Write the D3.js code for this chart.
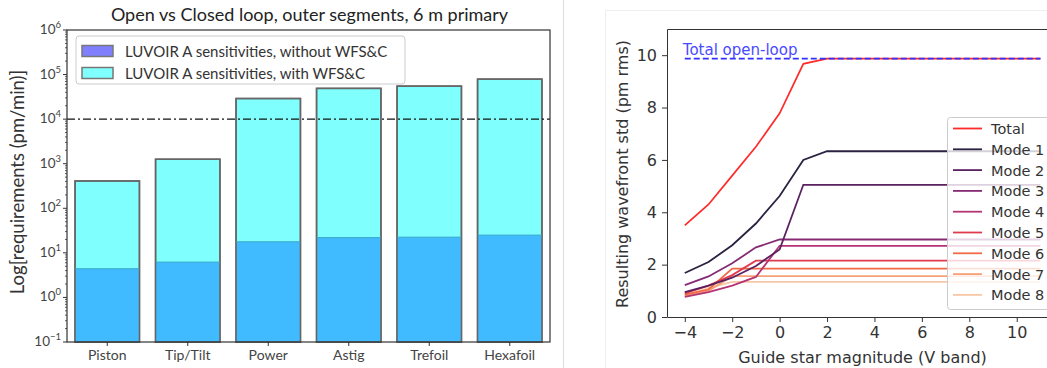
<!DOCTYPE html>
<html lang="en">
<head>
<meta charset="UTF-8">
<script src="https://d3js.org/d3.v7.min.js"></script>
<style>
  body { margin: 0; background: #fff; }
  svg { display: block; }
</style>
</head>
<body>
<div id="chart"></div>
<script>
// ---- data: left panel (log bar chart) ----
var modes = ["Piston", "Tip/Tilt", "Power", "Astig", "Trefoil", "Hexafoil"];
var withWFSC = [410, 1260, 29000, 49000, 55000, 79000];
var withoutWFSC = [4.4, 6.2, 17.7, 22, 22.5, 25];
var logTicks = [-1, 0, 1, 2, 3, 4, 5, 6];
var openLoopReq = 1e4;

// ---- data: right panel (closed loop vs guide star magnitude) ----
var magnitudes = [-4, -3, -2, -1, 0, 1, 2, 3, 4, 5, 6, 7, 8, 9, 10, 11];
var totalOpen = 9.87;
var totalStd = [3.5, 4.3, 5.4, 6.5, 7.78, 9.67, 9.87, 9.87, 9.87, 9.87, 9.87, 9.87, 9.87, 9.87, 9.87, 9.87];
var mode1 = [1.68, 2.1, 2.74, 3.57, 4.62, 6.0, 6.33, 6.33, 6.33, 6.33, 6.33, 6.33, 6.33, 6.33, 6.33, 6.33];
var mode2 = [0.95, 1.2, 1.5, 1.95, 2.58, 5.05, 5.05, 5.05, 5.05, 5.05, 5.05, 5.05, 5.05, 5.05, 5.05, 5.05];
var mode3 = [1.22, 1.55, 2.05, 2.66, 2.96, 2.96, 2.96, 2.96, 2.96, 2.96, 2.96, 2.96, 2.96, 2.96, 2.96, 2.96];
var mode4 = [0.77, 0.95, 1.2, 1.53, 2.72, 2.72, 2.72, 2.72, 2.72, 2.72, 2.72, 2.72, 2.72, 2.72, 2.72, 2.72];
var mode5 = [0.9, 1.2, 1.6, 2.15, 2.15, 2.15, 2.15, 2.15, 2.15, 2.15, 2.15, 2.15, 2.15, 2.15, 2.15, 2.15];
var mode6 = [0.85, 1.05, 1.85, 1.85, 1.85, 1.85, 1.85, 1.85, 1.85, 1.85, 1.85, 1.85, 1.85, 1.85, 1.85, 1.85];
var mode7 = [0.8, 1.0, 1.56, 1.56, 1.56, 1.56, 1.56, 1.56, 1.56, 1.56, 1.56, 1.56, 1.56, 1.56, 1.56, 1.56];
var mode8 = [0.82, 1.1, 1.34, 1.34, 1.34, 1.34, 1.34, 1.34, 1.34, 1.34, 1.34, 1.34, 1.34, 1.34, 1.34, 1.34];
var seriesNames = ["Total", "Mode 1", "Mode 2", "Mode 3", "Mode 4", "Mode 5", "Mode 6", "Mode 7", "Mode 8"];
var seriesColors = ["#ff2a2a", "#2b2140", "#5a2160", "#852b73", "#b53474", "#e03a4f", "#ef6a45", "#f5a078", "#f8c7a6"];
var xTicksR = [-4, -2, 0, 2, 4, 6, 8, 10];
var yTicksR = [0, 2, 4, 6, 8, 10];

var W = 1047, H = 368;
var svg = d3.select("#chart").append("svg").attr("width", W).attr("height", H);

// panel separators
svg.append("line").attr("x1", 563.5).attr("x2", 563.5).attr("y1", 0).attr("y2", H)
  .attr("stroke", "#ddd").attr("stroke-width", 1);
svg.append("path").attr("d", "M605.5," + H + "V10.5H" + W)
  .attr("fill", "none").attr("stroke", "#eee").attr("stroke-width", 1);

// =============== left panel ===============
var lf = "Lato, 'Open Sans', sans-serif";
var L = { left: 67, right: 550, top: 30, bottom: 342 };
var xb = d3.scaleBand().domain(modes).range([L.left, L.right]).paddingInner(0.2).paddingOuter(0.1);
var yl = d3.scaleLog().domain([0.1, 1e6]).range([L.bottom, L.top]);
var gl = svg.append("g");

gl.append("text").attr("x", (L.left + L.right) / 2 + 1).attr("y", 21)
  .attr("text-anchor", "middle").attr("font-family", lf).attr("font-size", 18)
  .attr("fill", "#222").text("Open vs Closed loop, outer segments, 6 m primary");

// cyan bars (with WFS&C)
gl.selectAll("rect.with").data(modes).enter().append("rect")
  .attr("x", function (d) { return xb(d); })
  .attr("width", xb.bandwidth())
  .attr("y", function (d, i) { return yl(withWFSC[i]); })
  .attr("height", function (d, i) { return L.bottom - yl(withWFSC[i]); })
  .attr("fill", "#80ffff").attr("stroke", "#666").attr("stroke-width", 1.5);
// blue bars (without WFS&C)
gl.selectAll("rect.without").data(modes).enter().append("rect")
  .attr("x", function (d) { return xb(d); })
  .attr("width", xb.bandwidth())
  .attr("y", function (d, i) { return yl(withoutWFSC[i]); })
  .attr("height", function (d, i) { return L.bottom - yl(withoutWFSC[i]); })
  .attr("fill", "#40bbff").attr("stroke", "none");
gl.selectAll("rect.outline").data(modes).enter().append("rect")
  .attr("x", function (d) { return xb(d); })
  .attr("width", xb.bandwidth())
  .attr("y", function (d, i) { return yl(withWFSC[i]); })
  .attr("height", function (d, i) { return L.bottom - yl(withWFSC[i]); })
  .attr("fill", "none").attr("stroke", "#666").attr("stroke-width", 1.5);
gl.selectAll("line.mid").data(modes).enter().append("line")
  .attr("x1", function (d) { return xb(d); })
  .attr("x2", function (d) { return xb(d) + xb.bandwidth(); })
  .attr("y1", function (d, i) { return yl(withoutWFSC[i]); })
  .attr("y2", function (d, i) { return yl(withoutWFSC[i]); })
  .attr("stroke", "#3aa8c8").attr("stroke-width", 1);

// requirement line
gl.append("line").attr("x1", L.left).attr("x2", L.right)
  .attr("y1", yl(openLoopReq)).attr("y2", yl(openLoopReq))
  .attr("stroke", "#111").attr("stroke-width", 1.3).attr("stroke-dasharray", "8,3,2,3");

// frame
gl.append("rect").attr("x", L.left).attr("y", L.top)
  .attr("width", L.right - L.left).attr("height", L.bottom - L.top)
  .attr("fill", "none").attr("stroke", "#333").attr("stroke-width", 1.2);

// y ticks (major + minor)
logTicks.forEach(function (e) {
  var y = yl(Math.pow(10, e));
  gl.append("line").attr("x1", L.left - 4).attr("x2", L.left).attr("y1", y).attr("y2", y)
    .attr("stroke", "#333").attr("stroke-width", 1);
  var t = gl.append("text").attr("x", L.left - 6).attr("y", y + 4)
    .attr("text-anchor", "end").attr("font-family", lf).attr("font-size", 13.5).attr("fill", "#444");
  t.append("tspan").text("10");
  t.append("tspan").attr("dy", -6).attr("font-size", 9.5).text(String(e).replace("-", "\u2212"));
  if (e < 6) {
    for (var k = 2; k < 10; k++) {
      var ym = yl(k * Math.pow(10, e));
      gl.append("line").attr("x1", L.left - 2).attr("x2", L.left).attr("y1", ym).attr("y2", ym)
        .attr("stroke", "#333").attr("stroke-width", 0.8);
    }
  }
});
gl.append("text").attr("transform", "translate(24," + 182 + ") rotate(-90)")
  .attr("text-anchor", "middle").attr("font-family", lf).attr("font-size", 18.5).attr("fill", "#333")
  .text("Log[requirements (pm/min)]");

// x ticks
modes.forEach(function (m) {
  var x = xb(m) + xb.bandwidth() / 2;
  gl.append("line").attr("x1", x).attr("x2", x).attr("y1", L.bottom).attr("y2", L.bottom + 4)
    .attr("stroke", "#333");
  gl.append("text").attr("x", x).attr("y", L.bottom + 18).attr("text-anchor", "middle")
    .attr("font-family", lf).attr("font-size", 14).attr("fill", "#444").text(m);
});

// legend
var lg = gl.append("g");
lg.append("rect").attr("x", 76).attr("y", 36).attr("width", 329).attr("height", 48).attr("rx", 3)
  .attr("fill", "#fff").attr("fill-opacity", 0.85).attr("stroke", "#ccc");
[["#7f7fff", "LUVOIR A sensitivities, without WFS&C"], ["#80ffff", "LUVOIR A sensitivities, with WFS&C"]]
  .forEach(function (d, i) {
    lg.append("rect").attr("x", 82).attr("y", 45.5 + i * 22).attr("width", 31).attr("height", 11)
      .attr("fill", d[0]).attr("stroke", "#777").attr("stroke-width", 1.5);
    lg.append("text").attr("x", 125).attr("y", 56.5 + i * 22).attr("font-family", lf)
      .attr("font-size", 15).attr("fill", "#333").text(d[1]);
  });

// =============== right panel ===============
var rf = "'DejaVu Sans', sans-serif";
var R = { left: 667, top: 29, bottom: 317 };
var xr = d3.scaleLinear().domain([-4.75, 11.75]).range([R.left, R.left + 16.5 * 23.71]);
var yr = d3.scaleLinear().domain([0, 11]).range([R.bottom, R.top]);
var gr = svg.append("g");

gr.append("path").attr("d", "M" + W + "," + (R.top + 0.5) + "H" + (R.left + 0.5) + "V" + (R.bottom + 0.5) + "H" + W)
  .attr("fill", "none").attr("stroke", "#333").attr("stroke-width", 1);

gr.append("g").attr("transform", "translate(0," + R.bottom + ")")
  .call(d3.axisBottom(xr).tickValues(xTicksR).tickSize(5).tickPadding(5)
    .tickFormat(function (d) { return String(d).replace("-", "\u2212"); }))
  .call(function (g) {
    g.select(".domain").remove();
    g.selectAll("text").attr("font-family", rf).attr("font-size", 16).attr("fill", "#333");
    g.selectAll("line").attr("stroke", "#333");
  });
gr.append("g").attr("transform", "translate(" + R.left + ",0)")
  .call(d3.axisLeft(yr).tickValues(yTicksR).tickSize(5).tickPadding(5))
  .call(function (g) {
    g.select(".domain").remove();
    g.selectAll("text").attr("font-family", rf).attr("font-size", 16).attr("fill", "#333");
    g.selectAll("line").attr("stroke", "#333");
  });

gr.append("text").attr("x", (R.left + 1058) / 2).attr("y", 363).attr("text-anchor", "middle")
  .attr("font-family", rf).attr("font-size", 16).attr("fill", "#333").text("Guide star magnitude (V band)");
gr.append("text").attr("transform", "translate(628," + ((R.top + R.bottom) / 2 + 1) + ") rotate(-90)")
  .attr("text-anchor", "middle").attr("font-family", rf).attr("font-size", 16).attr("fill", "#333")
  .text("Resulting wavefront std (pm rms)");

var line = d3.line().x(function (d) { return xr(d[0]); }).y(function (d) { return yr(d[1]); });
var allSeries = [totalStd, mode1, mode2, mode3, mode4, mode5, mode6, mode7, mode8];

// total curve
gr.append("path").datum(magnitudes.map(function (m, i) { return [m, totalStd[i]]; }))
  .attr("d", line).attr("fill", "none").attr("stroke", seriesColors[0]).attr("stroke-width", 1.7);
// open-loop level
gr.append("line").attr("x1", xr(-4)).attr("x2", xr(11)).attr("y1", yr(totalOpen)).attr("y2", yr(totalOpen))
  .attr("stroke", "#3030ff").attr("stroke-width", 1.8).attr("stroke-dasharray", "6,3");
gr.append("text").attr("x", xr(-4) - 2).attr("y", yr(totalOpen) - 4)
  .attr("font-family", rf).attr("font-size", 15).attr("fill", "#4a4aff").text("Total open-loop");

// modes
for (var s = allSeries.length - 1; s >= 1; s--) {
  gr.append("path").datum(magnitudes.map(function (m, i) { return [m, allSeries[s][i]]; }))
    .attr("d", line).attr("fill", "none").attr("stroke", seriesColors[s]).attr("stroke-width", 1.8);
}

// legend
var rl = gr.append("g");
rl.append("rect").attr("x", 947.5).attr("y", 117.5).attr("width", 120).attr("height", 192).attr("rx", 3)
  .attr("fill", "#fff").attr("fill-opacity", 0.8).attr("stroke", "#ccc");
seriesNames.forEach(function (n, i) {
  var y = 128.5 + i * 20.8;
  rl.append("line").attr("x1", 953).attr("x2", 982).attr("y1", y).attr("y2", y)
    .attr("stroke", seriesColors[i]).attr("stroke-width", 1.8);
  rl.append("text").attr("x", 991).attr("y", y + 5.5).attr("font-family", rf).attr("font-size", 14.5)
    .attr("fill", "#333").text(n);
});
</script>
</body>
</html>
